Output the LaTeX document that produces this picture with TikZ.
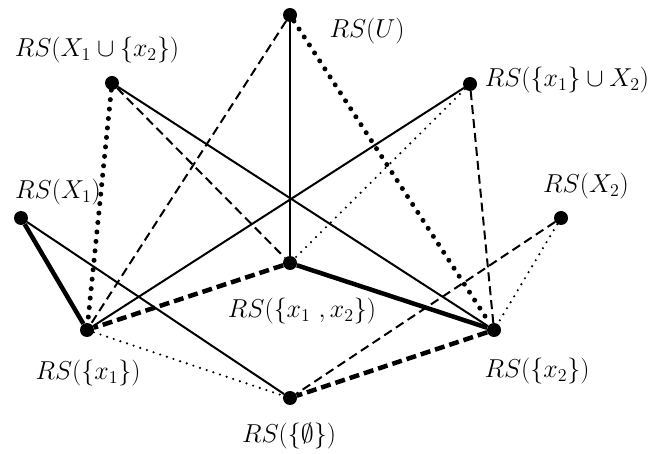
\documentclass[tikz,border=0pt]{standalone}
\newcommand{\mylab}[1]{\scalebox{1.5}{$#1$}}
\begin{document}
\begin{tikzpicture}[x=1pt,y=-1pt,
  dotnode/.style={circle,fill=black,inner sep=0pt,minimum size=14pt},
  lbl/.style={inner sep=0pt,font=\LARGE},
  thinsolid/.style={line width=2pt},
  thicksolid/.style={line width=4.5pt},
  thindash/.style={line width=2pt,dash pattern=on 9pt off 5pt},
  thickdash/.style={line width=4.5pt,dash pattern=on 10pt off 5pt},
  bigdots/.style={line width=5pt,line cap=round,dash pattern=on 0pt off 9.5pt},
  smalldots/.style={line width=2.4pt,line cap=round,dash pattern=on 0pt off 7pt}]
\useasboundingbox (0,0) rectangle (664,454);
% points
\node[dotnode] (U) at (290,15) {};
\node[dotnode] (A) at (112,83) {};
\node[dotnode] (B) at (470,84) {};
\node[dotnode] (X1) at (21,218) {};
\node[dotnode] (X2) at (561,218) {};
\node[dotnode] (M) at (290,263) {};
\node[dotnode] (P) at (87,330) {};
\node[dotnode] (Q) at (494,330) {};
\node[dotnode] (E) at (290,398) {};
% labels
\node[lbl] (lU) at (367,31) {\mylab{RS(U)}};
\node[lbl] (lA) at (97,50) {\mylab{RS(X_1\cup\{x_2\})}};
\node[lbl] (lB) at (567,80) {\mylab{RS(\{x_1\}\cup X_2)}};
\node[lbl] (lX1) at (58,192) {\mylab{RS(X_1)}};
\node[lbl] (lX2) at (586,186) {\mylab{RS(X_2)}};
\node[lbl] (lM) at (302,311) {\mylab{RS(\{x_1\ ,x_2\})}};
\node[lbl] (lP) at (88,373) {\mylab{RS(\{x_1\})}};
\node[lbl] (lQ) at (537,371) {\mylab{RS(\{x_2\})}};
\node[lbl] (lE) at (289,436) {\mylab{RS(\{\emptyset\})}};
% edges
\draw[thinsolid] (U) -- (M);
\draw[thindash] (U) -- (P);
\draw[bigdots] (U) -- (Q);
\draw[bigdots] (A) -- (P);
\draw[thindash] (A) -- (M);
\draw[thinsolid] (A) -- (Q);
\draw[thinsolid] (B) -- (P);
\draw[smalldots] (B) -- (M);
\draw[thindash] (B) -- (Q);
\draw[thicksolid] (X1) -- (P);
\draw[thinsolid] (X1) -- (E);
\draw[thindash] (X2) -- (E);
\draw[smalldots] (X2) -- (Q);
\draw[thickdash] (M) -- (P);
\draw[thicksolid] (M) -- (Q);
\draw[smalldots] (P) -- (E);
\draw[thickdash] (Q) -- (E);
\end{tikzpicture}
\end{document}
